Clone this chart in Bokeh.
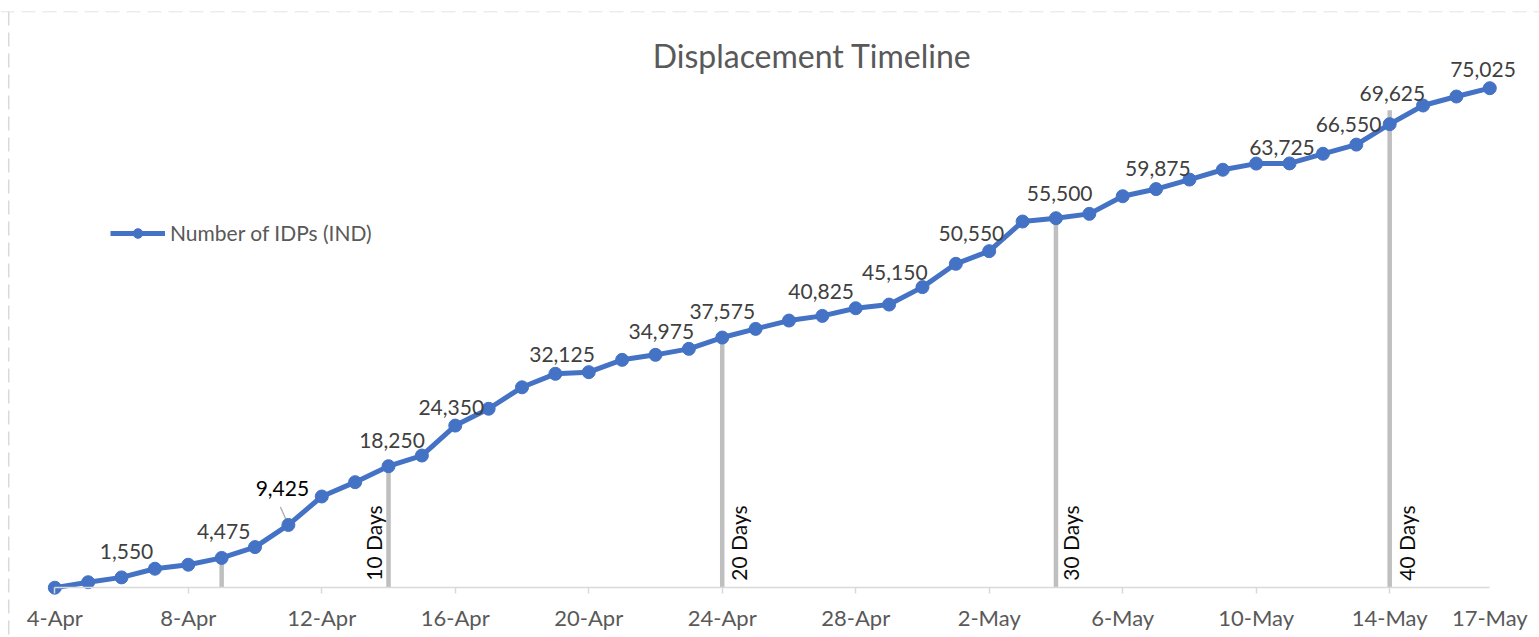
import math
from bokeh.plotting import figure
from bokeh.models import ColumnDataSource, FixedTicker, Span, Label, Legend, LegendItem, Range1d
from bokeh.core.properties import value
from bokeh.embed import file_html
from bokeh.resources import INLINE

# ---------------- data ----------------
dates = ["4-Apr", "5-Apr", "6-Apr", "7-Apr", "8-Apr", "9-Apr", "10-Apr", "11-Apr", "12-Apr",
         "13-Apr", "14-Apr", "15-Apr", "16-Apr", "17-Apr", "18-Apr", "19-Apr", "20-Apr",
         "21-Apr", "22-Apr", "23-Apr", "24-Apr", "25-Apr", "26-Apr", "27-Apr", "28-Apr",
         "29-Apr", "30-Apr", "1-May", "2-May", "3-May", "4-May", "5-May", "6-May", "7-May",
         "8-May", "9-May", "10-May", "11-May", "12-May", "13-May", "14-May", "15-May",
         "16-May", "17-May"]
idps = [0, 825, 1550, 2850, 3450, 4475, 6100, 9425, 13700, 15850, 18250, 19850, 24350,
        26875, 30100, 32125, 32375, 34225, 34975, 35875, 37575, 38875, 40125, 40825,
        41975, 42525, 45150, 48650, 50550, 55000, 55500, 56150, 58800, 59875, 61300,
        62775, 63700, 63725, 65175, 66550, 69625, 72425, 73775, 75025]

labelled_dates = ["6-Apr", "9-Apr", "11-Apr", "14-Apr", "16-Apr", "19-Apr", "22-Apr",
                  "24-Apr", "27-Apr", "30-Apr", "2-May", "4-May", "7-May", "11-May",
                  "13-May", "14-May", "17-May"]

tick_dates = ["4-Apr", "8-Apr", "12-Apr", "16-Apr", "20-Apr", "24-Apr", "28-Apr",
              "2-May", "6-May", "10-May", "14-May", "17-May"]
tick_mark_dates = ["4-Apr", "8-Apr", "12-Apr", "16-Apr", "20-Apr", "24-Apr", "28-Apr",
                   "2-May", "6-May", "10-May", "14-May"]

milestone_dates = ["9-Apr", "14-Apr", "24-Apr", "4-May", "14-May"]
milestone_tops = [4475, 18250, 37575, 55500, 71700]
milestone_texts = ["", "10 Days", "20 Days", "30 Days", "40 Days"]

series_name = "Number of IDPs (IND)"
title_text = "Displacement Timeline"

# ---------------- layout / style ----------------
W, H = 1539, 637
BORDER_TOP = 11
FRAME_W, FRAME_H = W, H - BORDER_TOP
PX_PER_DAY_REF = 33.372
X_START = -54.3 / PX_PER_DAY_REF
X_END = X_START + FRAME_W / PX_PER_DAY_REF
Y_END = 86545
Y_START = Y_END - FRAME_H * 150.2
PX_PER_DAY = FRAME_W / (X_END - X_START)
UNITS_PER_PX = (Y_END - Y_START) / FRAME_H

BLUE = "#4472C4"
GREY_TXT = "#595959"
LABEL_TXT = "#404040"
AXIS_COL = "#D9D9D9"
BAR_COL = "#BFBFBF"
FONT = "Lato"
TEXT_SHIFT = 7  # baseline correction for rendered text, px

# label placement (pixels): horizontal shift, baseline height above the point
label_dx = [5, 2, -6, 3.5, -4, 6.7, 5.8, 0, -1.2, -27.7, -17.8, 3.7, 1.8, -7.6, -7.8, 2.7, -6.8]
label_dy = [18.4, 19, 29, 18.4, 11, 12.6, 16.3, 19, 17.7, 7.4, 10.7, 18, 14, 8.5, 13.3, 24, 11.7]
label_colors = [LABEL_TXT, LABEL_TXT, "#000000"] + [LABEL_TXT] * 14
milestone_dx = [0, -7.7, 23.3, 22.0, 24.0]

xs = list(range(len(dates)))

p = figure(width=W, height=H, x_range=Range1d(X_START, X_END), y_range=Range1d(Y_START, Y_END),
           output_backend="svg", toolbar_location=None, y_axis_location=None,
           min_border_left=0, min_border_right=0, min_border_top=BORDER_TOP, min_border_bottom=0)
p.outline_line_color = None
p.grid.visible = False
p.background_fill_color = "white"
p.border_fill_color = "white"

# dashed chart-area border (left and top)
p.add_layout(Span(location=X_START + 8.2 / PX_PER_DAY, dimension="height", line_color=AXIS_COL,
                  line_width=1.5, line_dash="14 7"))
p.add_layout(Span(location=Y_END, dimension="width", line_color=AXIS_COL,
                  line_width=1.5, line_dash="14 7"))

# milestone bars
m_idx = [dates.index(d) for d in milestone_dates]
p.vbar(x=m_idx, top=milestone_tops, bottom=0, width=4.5 / PX_PER_DAY, fill_color=BAR_COL,
       line_color=None)

# leader line for the offset label (11-Apr)
i_lead = dates.index("11-Apr")
p.segment(x0=[i_lead], y0=[idps[i_lead]], x1=[i_lead - 8 / PX_PER_DAY],
          y1=[idps[i_lead] + 18 * UNITS_PER_PX], line_color="#A6A6A6", line_width=1.2)

src = ColumnDataSource(dict(x=xs, y=idps))
lr = p.line("x", "y", source=src, line_color=BLUE, line_width=5, line_join="round")
sr = p.scatter("x", "y", source=src, size=13, fill_color=BLUE, line_color=BLUE)

# data labels
l_idx = [dates.index(d) for d in labelled_dates]
lab_src = ColumnDataSource(dict(
    x=[i + dx / PX_PER_DAY for i, dx in zip(l_idx, label_dx)],
    y=[idps[i] + (dy + TEXT_SHIFT) * UNITS_PER_PX for i, dy in zip(l_idx, label_dy)],
    t=[f"{idps[i]:,}" for i in l_idx],
    c=label_colors,
))
p.text("x", "y", text="t", source=lab_src, text_align="center", text_baseline="alphabetic",
       text_font=value(FONT), text_font_size="21px", text_color="c")

# milestone texts (rotated)
ms = [(i, t, dx) for i, t, dx in zip(m_idx, milestone_texts, milestone_dx) if t]
ms_src = ColumnDataSource(dict(
    x=[i + (dx - TEXT_SHIFT) / PX_PER_DAY for i, t, dx in ms],
    y=[7 * UNITS_PER_PX] * len(ms),
    t=[t for i, t, dx in ms],
))
p.text("x", "y", text="t", source=ms_src, angle=math.pi / 2, text_align="left",
       text_baseline="alphabetic", text_font=value(FONT), text_font_size="21px",
       text_color="#0D0D0D")

# x axis
ax = p.xaxis[0]
ax.fixed_location = 0
ax.bounds = (0, len(dates) - 1)
t_idx = [dates.index(d) for d in tick_dates]
tm_idx = [dates.index(d) for d in tick_mark_dates]
ax.ticker = FixedTicker(ticks=t_idx, minor_ticks=tm_idx)
ax.major_label_overrides = {i: dates[i] for i in t_idx}
ax.major_tick_in = 0
ax.major_tick_out = 0
ax.major_tick_line_color = None
ax.minor_tick_in = 0
ax.minor_tick_out = 6
ax.minor_tick_line_color = AXIS_COL
ax.minor_tick_line_width = 1.5
ax.axis_line_color = AXIS_COL
ax.axis_line_width = 1.5
ax.major_label_standoff = 10
ax.major_label_text_font = FONT
ax.major_label_text_font_size = "22px"
ax.major_label_text_color = GREY_TXT

# title
p.add_layout(Label(x=(811.7 - 54.3) / PX_PER_DAY, y=(587.2 - 66.7 + 12) * UNITS_PER_PX,
                   text=title_text, text_align="center", text_baseline="alphabetic",
                   text_font=FONT, text_font_size="32px", text_color=GREY_TXT))

# legend
legend = Legend(items=[LegendItem(label=series_name, renderers=[lr, sr])], location=(110, 392),
                glyph_width=55, glyph_height=24, label_height=24, label_standoff=5, padding=0,
                margin=0, spacing=0, border_line_color=None, background_fill_alpha=0,
                label_text_font=FONT, label_text_font_size="21px", label_text_color=GREY_TXT)
p.add_layout(legend)

open("out.html", "w").write(file_html(p, INLINE))
